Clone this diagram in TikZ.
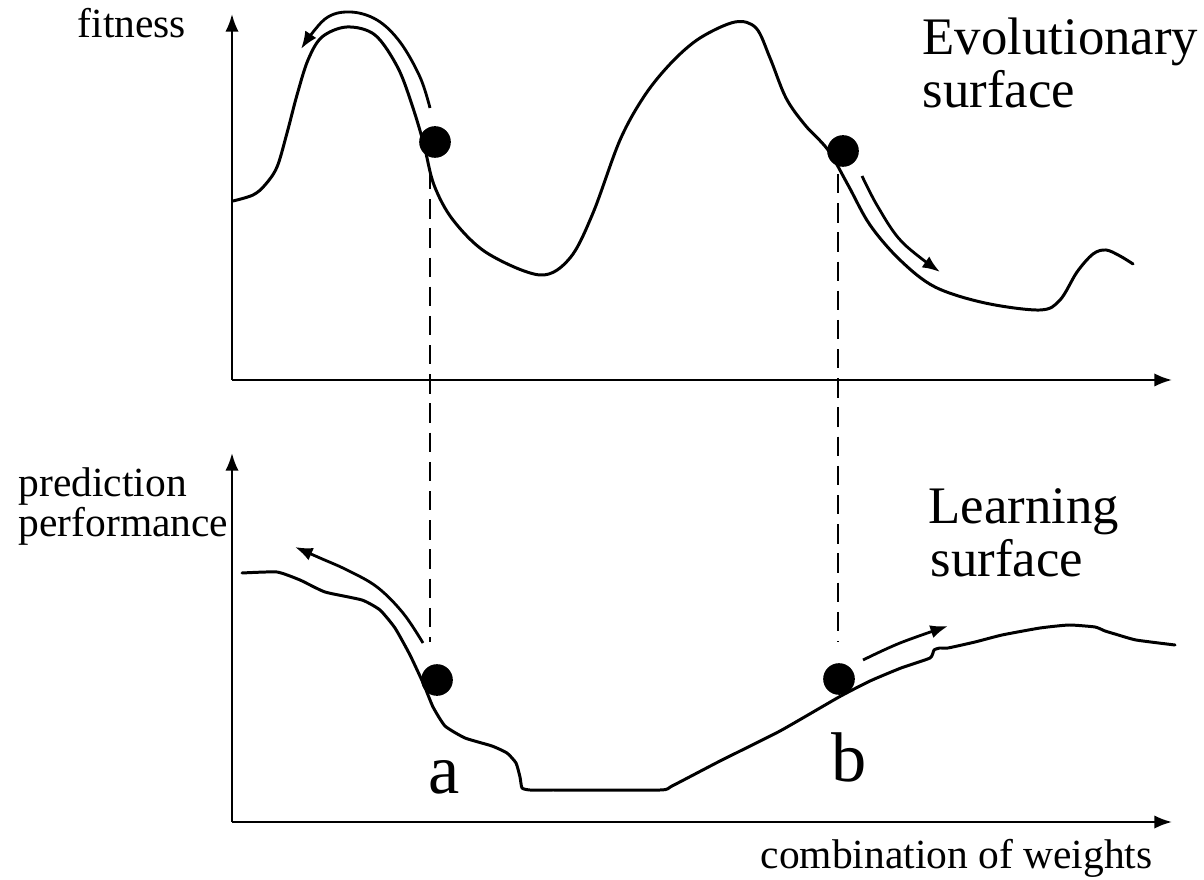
\documentclass[tikz,border=0pt]{standalone}
\usepackage{fontspec}
\setmainfont{Liberation Serif}
\usetikzlibrary{arrows.meta}

\tikzset{
  axis/.style={line width=0.7pt, -{Latex[length=5pt,width=3.8pt]}},
  surf/.style={line width=0.85pt, line join=round, line cap=round},
  move/.style={line width=0.8pt, -{Latex[length=5pt,width=3.8pt]}},
  ball/.style={circle, fill=black, inner sep=0pt, minimum size=9pt},
  guide/.style={line width=0.65pt, dash pattern=on 5.5pt off 2.8pt},
  lbl/.style={font=\fontsize{11.8}{13}\selectfont, inner sep=0pt, anchor=base west},
  title/.style={font=\fontsize{15}{17}\selectfont, inner sep=0pt, anchor=base west},
  pointlbl/.style={font=\fontsize{20}{22}\selectfont, inner sep=0pt, anchor=base west}
}

\begin{document}
\begin{tikzpicture}[x=0.01cm, y=-0.01cm]
  \useasboundingbox (0,0) rectangle (1204,880);
  % EVOLUTIONARY SURFACE (top)
  \coordinate (eo) at (232,380);
  \coordinate (ey) at (232,14);
  \coordinate (ex) at (1172,380);
  \draw[axis] (eo) -- (ey);
  \draw[axis] (eo) -- (ex);
  \node[lbl] (fit) at (77,38) {fitness};
  \node[title] (evo) at (922,55) {Evolutionary};
  \node[title] (evos) at (922,108) {surface};
  % fitness curve
  \draw[surf] plot[smooth, tension=0.55] coordinates {
    (233,201) (253,195) (265,185) (277,167) (287,133) (297,95) (308,60)
    (322,37) (347,27) (375,35) (398,68) (413,108) (424,145) (434,185)
    (453,220) (487,253) (540,275) (570,258) (593,213) (620,140) (645,95)
    (672,62) (700,38) (735,22) (756,28) (770,58) (786,98) (805,125)
    (828,150) (848,185) (870,225) (900,260) (935,287) (985,303)
    (1040,310) (1060,300) (1077,272) (1093,254) (1106,250) (1120,256)
    (1133,264)};
  % balls + moves
  \node[ball] (ea) at (435,142) {};
  \node[ball] (eb) at (843,151) {};
  \draw[move] plot[smooth, tension=0.6] coordinates {
    (430,108) (420,77) (400,42) (377,20) (350,12) (325,19) (301,49)};
  \draw[move] plot[smooth, tension=0.6] coordinates {
    (862,176) (878,207) (902,242) (940,272)};
  % LEARNING SURFACE (bottom)
  \coordinate (lo) at (232,822);
  \coordinate (ly) at (232,453);
  \coordinate (lx) at (1172,822);
  \draw[axis] (lo) -- (ly);
  \draw[axis] (lo) -- (lx);
  \node[lbl] (pred) at (18,497) {prediction};
  \node[lbl] (perf) at (18,537) {performance};
  \node[title] (lrn) at (928,524) {Learning};
  \node[title] (lrns) at (930,577) {surface};
  \node[lbl] (comb) at (760,868) {combination of weights};
  % performance curve
  \draw[surf] plot[smooth, tension=0.3] coordinates {
    (242,573) (277,572) (300,580) (325,592) (362,600) (380,610) (395,628)
    (410,655) (424,685) (433,707) (445,726) (465,738) (492,746) (507,753)
    (516,763) (520,777) (522,788) (530,790) (553,790) (660,790) (672,786)
    (720,761) (780,731) (839,697) (870,681) (901,668) (930,658) (934,650)
    (940,648) (948,648) (975,642) (1002,635) (1040,628) (1069,625)
    (1095,627) (1105,631) (1115,634) (1136,640) (1175,645)};
  % balls + moves
  \node[ball] (la) at (437,680) {};
  \node[ball] (lb) at (839,679) {};
  \draw[move] plot[smooth, tension=0.6] coordinates {
    (423,643) (403,613) (377,587) (347,570) (320,558) (295,547)};
  \draw[move] plot[smooth, tension=0.6] coordinates {
    (863,660) (900,643) (948,626)};
  \node[pointlbl] (pa) at (428,793) {a};
  \node[pointlbl] (pb) at (831,781) {b};
  % dashed links
  \coordinate (ga1) at (430,170);
  \coordinate (ga2) at (430,642);
  \coordinate (gb1) at (838,174);
  \coordinate (gb2) at (838,642);
  \draw[guide] (ga1) -- (ga2);
  \draw[guide] (gb1) -- (gb2);
\end{tikzpicture}
\end{document}
